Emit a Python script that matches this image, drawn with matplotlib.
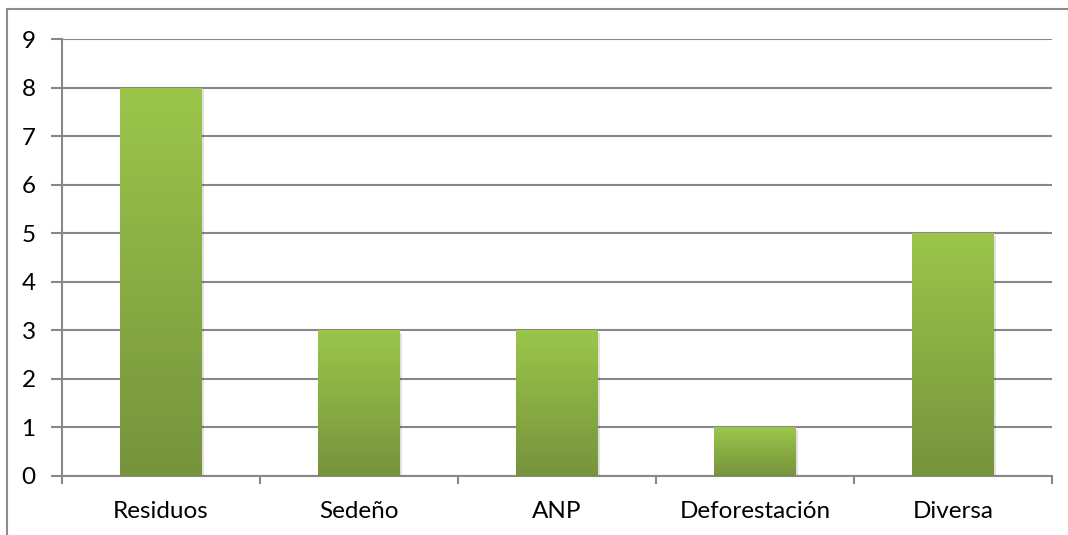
import numpy as np
import matplotlib.pyplot as plt
from matplotlib.colors import LinearSegmentedColormap
from matplotlib.patches import Rectangle

categories = ["Residuos", "Sedeño", "ANP", "Deforestación", "Diversa"]
values = [8, 3, 3, 1, 5]
y_ticks = list(range(0, 10))

plt.rcParams['font.family'] = ['Lato', 'DejaVu Sans']

fig = plt.figure(figsize=(10.68, 5.35), dpi=100)
ax = fig.add_axes([62 / 1068, 1 - 476 / 535, (1052 - 62) / 1068, (476 - 39) / 535])

# outer chart frame (cropped at right and bottom)
fig.patches.append(Rectangle((7 / 1068, -0.1), 1.2, 1 - 9 / 535 + 0.1,
                             transform=fig.transFigure, fill=False,
                             edgecolor="#8c8c8c", linewidth=1.5, zorder=0))

x = np.arange(len(categories))
width = 0.41
cmap = LinearSegmentedColormap.from_list("grn", ["#76933c", "#9bc64b"])
grad = np.linspace(0, 1, 256).reshape(-1, 1)

for xi, v in zip(x, values):
    # soft shadow
    ax.add_patch(Rectangle((xi - width / 2 + 0.012, -0.06), width, v,
                           facecolor="#000000", alpha=0.12, edgecolor="none", zorder=2))
    bar = ax.bar(xi, v, width=width, color="none", edgecolor="none", zorder=3)[0]
    im = ax.imshow(grad, cmap=cmap, aspect="auto", origin="lower",
                   extent=(xi - width / 2, xi + width / 2, 0, v), zorder=3)
    im.set_clip_path(bar)

ax.set_xlim(-0.5, len(categories) - 0.5)
ax.set_ylim(0, 9)
ax.set_yticks(y_ticks)
ax.yaxis.grid(True, color="#888888", linewidth=1.5)
ax.set_axisbelow(True)

ax.set_xticks(x)
ax.set_xticklabels(categories)
ax.set_xticks(np.arange(-0.5, len(categories)), minor=True)
ax.tick_params(axis="x", which="major", length=0, pad=18, labelsize=17.5)
ax.tick_params(axis="x", which="minor", length=6, width=1.5, color="#888888")
ax.tick_params(axis="y", length=8, width=1.5, color="#888888", pad=11, labelsize=17.5)

for s in ["top", "right"]:
    ax.spines[s].set_visible(False)
for s in ["left", "bottom"]:
    ax.spines[s].set_color("#888888")
    ax.spines[s].set_linewidth(1.5)

fig.savefig("out.png", dpi=100)
